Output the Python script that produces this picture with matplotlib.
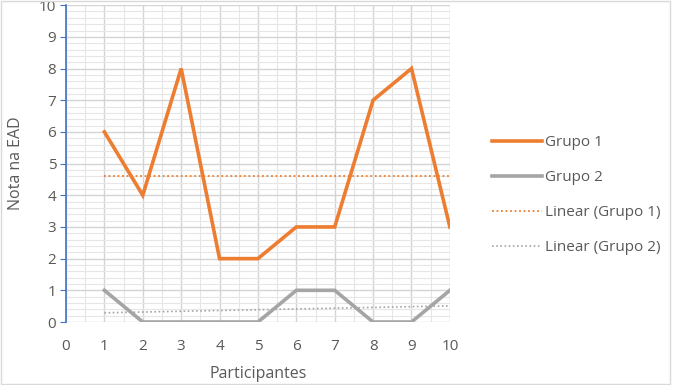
import numpy as np
import matplotlib.pyplot as plt
from matplotlib.ticker import MultipleLocator

# data
participantes = [1, 2, 3, 4, 5, 6, 7, 8, 9, 10]
grupo1 = [6, 4, 8, 2, 2, 3, 3, 7, 8, 3]
grupo2 = [1, 0, 0, 0, 0, 1, 1, 0, 0, 1]

plt.rcParams["font.family"] = ["Open Sans", "DejaVu Sans"]

orange = "#ED7D31"
grey = "#A5A5A5"

fig = plt.figure(figsize=(6.77, 3.85), dpi=100)
ax = fig.add_axes([0.0975, 0.1636, 0.567, 0.823])

x = np.array(participantes)

# Excel-style linear trendlines
p1 = np.polyfit(x, grupo1, 1)
p2 = np.polyfit(x, grupo2, 1)

ax.plot(x, grupo1, color=orange, lw=2.6, label="Grupo 1", solid_joinstyle="miter")
ax.plot(x, grupo2, color=grey, lw=2.6, label="Grupo 2", solid_joinstyle="miter")
ax.plot(x, np.polyval(p1, x), color=orange, lw=1.3, ls=(0, (1, 1.5)), label="Linear (Grupo 1)")
ax.plot(x, np.polyval(p2, x), color=grey, lw=1.2, ls=(0, (1, 1.5)), label="Linear (Grupo 2)")

ax.set_xlim(0, 10)
ax.set_ylim(0, 10)
ax.xaxis.set_major_locator(MultipleLocator(1))
ax.yaxis.set_major_locator(MultipleLocator(1))
ax.xaxis.set_minor_locator(MultipleLocator(0.5))
ax.yaxis.set_minor_locator(MultipleLocator(0.2))
ax.grid(True, which="major", color="#D4D4D4", lw=1.0)
ax.grid(True, which="minor", color="#E6E6E6", lw=0.8)
ax.set_axisbelow(True)

for s in ["top", "right", "bottom"]:
    ax.spines[s].set_visible(False)
ax.spines["left"].set_color("#4472C4")
ax.spines["left"].set_linewidth(1.2)

ax.tick_params(axis="y", which="major", direction="out", length=4, color="#4472C4",
               labelsize=11, labelcolor="#595959", pad=3)
ax.tick_params(axis="x", which="major", length=0, labelsize=11, labelcolor="#595959", pad=12)
ax.tick_params(which="minor", length=0)

ax.set_xlabel("Participantes", fontsize=11.5, color="#595959", labelpad=9)
ax.set_ylabel("Nota na EAD", fontsize=11.5, color="#595959", labelpad=11)

leg = fig.legend(loc="center left", bbox_to_anchor=(0.706, 0.493), frameon=False,
                 fontsize=11, handlelength=3.3, handletextpad=0.2, labelspacing=1.3,
                 labelcolor="#595959")

# outer border
fig.patches.append(plt.Rectangle((0.002, 0.003), 0.988, 0.994, transform=fig.transFigure,
                                 fill=False, edgecolor="#D9D9D9", lw=1))

fig.savefig("out.png", dpi=100)
